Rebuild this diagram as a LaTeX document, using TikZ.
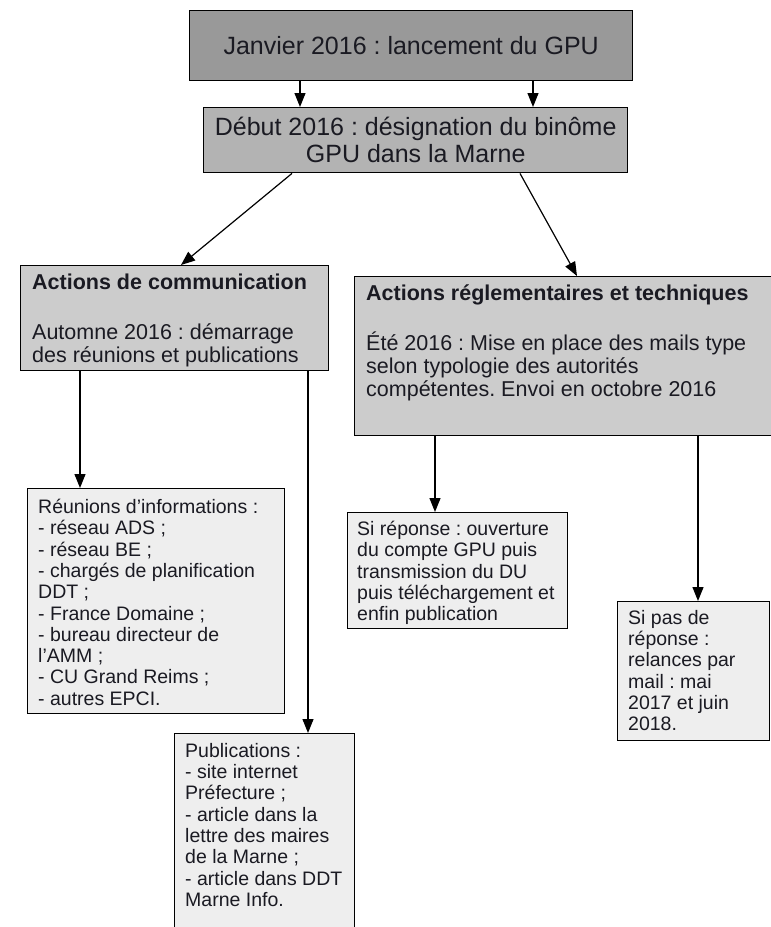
\documentclass[tikz,border=0pt]{standalone}
\usepackage{fontspec}
\setmainfont{Liberation Sans}
\usetikzlibrary{arrows.meta}
\definecolor{gA}{HTML}{999999}
\definecolor{gB}{HTML}{B3B3B3}
\definecolor{gC}{HTML}{CCCCCC}
\definecolor{gD}{HTML}{EEEEEE}
\definecolor{textcol}{HTML}{1A1A22}
\frenchspacing
\begin{document}
\begin{tikzpicture}[x=1pt,y=-1pt,
  boxline/.style={draw=black, line width=1.4pt, rectangle, inner sep=0pt, anchor=north west, text=textcol},
  arr/.style={line width=1.2pt, -{Triangle[length=14pt,width=11pt]}},
  txt/.style={anchor=north west, inner sep=0pt, align=left, text=textcol},
  bigfont/.style={font=\fontsize{25}{27}\selectfont},
  midfont/.style={font=\fontsize{21.5}{23.3}\selectfont},
  smallfont/.style={font=\fontsize{19.5}{21.3}\selectfont}
]
\useasboundingbox (0,0) rectangle (771,927);

\node[boxline, fill=gA, minimum width=443pt, minimum height=70pt, bigfont] (top) at (189,10) {Janvier 2016 : lancement du GPU};
\node[boxline, fill=gB, minimum width=424pt, minimum height=65pt, align=center, bigfont] (deb) at (203,107) {Début 2016 : désignation du binôme\\GPU dans la Marne};

\node[boxline, fill=gC, minimum width=308pt, minimum height=105pt] (com) at (20,265) {};
\node[txt, midfont] (comt) at (32,274) {\textbf{Actions de communication}\\[26pt]Automne 2016 : démarrage\\des réunions et publications};

\node[boxline, fill=gC, minimum width=425pt, minimum height=159pt] (reg) at (354,276) {};
\node[txt, midfont] (regt) at (366,285) {\textbf{Actions réglementaires et techniques}\\[26pt]Été 2016 : Mise en place des mails type\\selon typologie des autorités\\compétentes. Envoi en octobre 2016};

\node[boxline, fill=gD, minimum width=257pt, minimum height=225pt] (reu) at (27,488) {};
\node[txt, smallfont] (reut) at (38,499) {Réunions d’informations :\\- réseau ADS ;\\- réseau BE ;\\- chargés de planification\\DDT ;\\- France Domaine ;\\- bureau directeur de\\l’AMM ;\\- CU Grand Reims ;\\- autres EPCI.};

\node[boxline, fill=gD, minimum width=220pt, minimum height=116pt] (sirep) at (347,512) {};
\node[txt, smallfont] (sirept) at (357,521) {Si réponse : ouverture\\du compte GPU puis\\transmission du DU\\puis téléchargement et\\enfin publication};

\node[boxline, fill=gD, minimum width=152pt, minimum height=139pt] (sipas) at (617,601) {};
\node[txt, smallfont] (sipast) at (628,610) {Si pas de\\réponse :\\relances par\\mail : mai\\2017 et juin\\2018.};

\node[boxline, fill=gD, minimum width=180pt, minimum height=220pt] (pub) at (174,733) {};
\node[txt, smallfont] (pubt) at (185,743) {Publications :\\- site internet\\Préfecture ;\\- article dans la\\lettre des maires\\de la Marne ;\\- article dans DDT\\Marne Info.};

\coordinate (xa) at (300,0);
\coordinate (xb) at (533,0);
\coordinate (c1) at (292,0);
\coordinate (c2) at (181,0);
\coordinate (c3) at (520,0);
\coordinate (c4) at (577,0);
\coordinate (c5) at (80,0);
\coordinate (c6) at (308,0);
\coordinate (c7) at (435,0);
\coordinate (c8) at (698,0);

\draw[arr] (top.south -| xa) -- (deb.north -| xa);
\draw[arr] (top.south -| xb) -- (deb.north -| xb);
\draw[arr] (deb.south -| c1) -- (com.north -| c2);
\draw[arr] (deb.south -| c3) -- (reg.north -| c4);
\draw[arr] (com.south -| c5) -- (reu.north -| c5);
\draw[arr] (com.south -| c6) -- (pub.north -| c6);
\draw[arr] (reg.south -| c7) -- (sirep.north -| c7);
\draw[arr] (reg.south -| c8) -- (sipas.north -| c8);
\end{tikzpicture}
\end{document}
